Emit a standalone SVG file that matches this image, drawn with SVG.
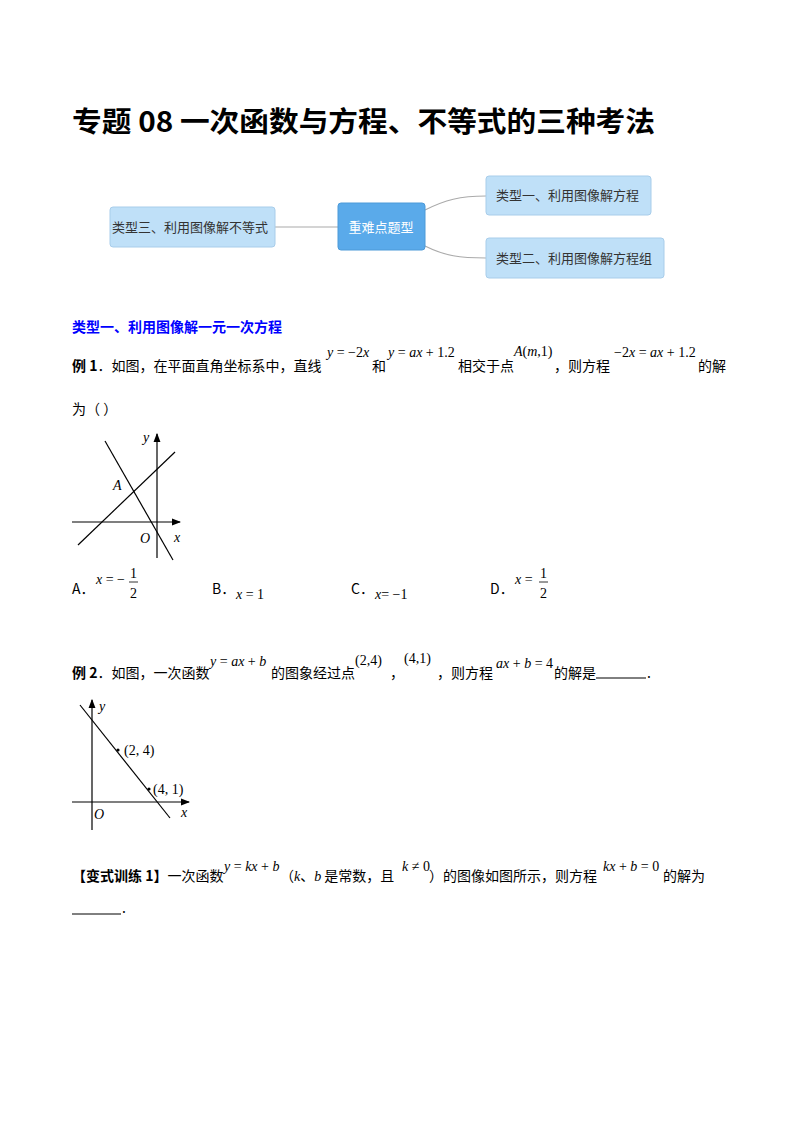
<svg xmlns="http://www.w3.org/2000/svg" width="800" height="1132" viewBox="0 0 800 1132">
<style>
.t{font-family:"Noto Sans CJK SC",sans-serif;font-size:14px;fill:#000}
.m{font-family:"Liberation Serif",serif;font-style:italic;font-size:14px;fill:#000}
.n{font-family:"Liberation Serif",serif;font-size:14px;fill:#000}
.r{font-style:normal}
.box{fill:#bfe0f8;stroke:#a8cdea;stroke-width:1}
.bt{font-family:"Noto Sans CJK SC",sans-serif;font-size:13px;fill:#333}
.ln{stroke:#000;stroke-width:1.2;fill:none}
</style>
<defs><marker id="ar" markerWidth="8" markerHeight="8" refX="7" refY="4" orient="auto"><path d="M0,1 L8,4 L0,7 z" fill="#000"/></marker></defs>
<rect width="800" height="1132" fill="#fff"/>
<text x="72" y="132" font-family="Noto Sans CJK SC,sans-serif" font-size="28" font-weight="bold" textLength="583" lengthAdjust="spacingAndGlyphs">专题 08  一次函数与方程、不等式的三种考法</text>
<g id="connectors" stroke="#aaa" stroke-width="1.2" fill="none">
<path d="M275,227 L338,227"/>
<path d="M425,210 C445,200 460,196 486,196"/>
<path d="M425,246 C445,256 460,258 486,258"/>
</g>
<g id="n3"><rect class="box" x="110" y="207" width="165" height="40" rx="3"/><text class="bt" x="112" y="232">类型三、利用图像解不等式</text></g>
<g id="n0"><rect x="338" y="203" width="87" height="47" rx="3" fill="#5aaaea" stroke="#4d9ad8"/><text x="381" y="232" text-anchor="middle" font-family="Noto Sans CJK SC,sans-serif" font-size="13" fill="#fff">重难点题型</text></g>
<g id="n1"><rect class="box" x="486" y="176" width="165" height="39" rx="3"/><text class="bt" x="496" y="200">类型一、利用图像解方程</text></g>
<g id="n2"><rect class="box" x="486" y="238" width="178" height="40" rx="3"/><text class="bt" x="496" y="263">类型二、利用图像解方程组</text></g>
<text x="72" y="332" font-family="Noto Sans CJK SC,sans-serif" font-size="14" font-weight="bold" fill="#0000ff">类型一、利用图像解一元一次方程</text>
<text class="t" x="72" y="371"><tspan font-weight="bold">例 1</tspan>．如图，在平面直角坐标系中，直线</text>
<text class="m" x="327" y="357">y <tspan class="r">= −2</tspan>x</text>
<text class="t" x="372" y="371">和</text>
<text class="m" x="388" y="357">y <tspan class="r">=</tspan> ax <tspan class="r">+ 1.2</tspan></text>
<text class="t" x="458" y="371">相交于点</text>
<text class="m" x="514" y="356">A<tspan class="r">(</tspan>m<tspan class="r">,1)</tspan></text>
<text class="t" x="554" y="371">，则方程</text>
<text class="m" x="614" y="357"><tspan class="r">−2</tspan>x <tspan class="r">=</tspan> ax <tspan class="r">+ 1.2</tspan></text>
<text class="t" x="698" y="371">的解</text>
<text class="t" x="72" y="414">为（    ）</text>
<g id="graph1">
<line class="ln" x1="72" y1="522" x2="180" y2="522" marker-end="url(#ar)"/>
<line class="ln" x1="157" y1="558" x2="157" y2="434" marker-end="url(#ar)"/>
<line class="ln" x1="105" y1="441" x2="173" y2="560"/>
<line class="ln" x1="78" y1="545" x2="175" y2="452"/>
<text class="m" x="113" y="490">A</text>
<text class="m" x="140" y="543" font-size="15">O</text>
<text class="m" x="174" y="542" font-size="15">x</text>
<text class="m" x="143" y="442" font-size="15">y</text>
</g>
<text class="t" x="72" y="594">A．</text><text class="m" x="96" y="584">x <tspan class="r">= −</tspan></text><text class="n" x="130" y="578">1</text><line x1="129" y1="582" x2="138" y2="582" stroke="#000" stroke-width="0.8"/><text class="n" x="130" y="598">2</text>
<text class="t" x="212" y="594">B．</text><text class="m" x="236" y="599">x <tspan class="r">= 1</tspan></text>
<text class="t" x="351" y="594">C．</text><text class="m" x="375" y="599">x<tspan class="r">= −1</tspan></text>
<text class="t" x="490" y="594">D．</text><text class="m" x="515" y="584">x <tspan class="r">=</tspan></text><text class="n" x="540" y="578">1</text><line x1="539" y1="582" x2="548" y2="582" stroke="#000" stroke-width="0.8"/><text class="n" x="540" y="598">2</text>
<text class="t" x="72" y="678"><tspan font-weight="bold">例 2</tspan>．如图，一次函数</text>
<text class="m" x="210" y="666">y <tspan class="r">=</tspan> ax <tspan class="r">+</tspan> b</text>
<text class="t" x="271" y="678">的图象经过点</text>
<text class="n" x="355" y="665" font-size="15">(2,4)</text>
<text class="t" x="390" y="678">，</text>
<text class="n" x="404" y="663" font-size="15">(4,1)</text>
<text class="t" x="437" y="678">，则方程</text>
<text class="m" x="496" y="668">ax <tspan class="r">+</tspan> b <tspan class="r">= 4</tspan></text>
<text class="t" x="554" y="678">的解是</text>
<line x1="596" y1="678" x2="646" y2="678" stroke="#000" stroke-width="1"/>
<text class="t" x="647" y="678">.</text>
<g id="graph2">
<line class="ln" x1="72" y1="802" x2="189" y2="802" marker-end="url(#ar)"/>
<line class="ln" x1="92" y1="830" x2="92" y2="700" marker-end="url(#ar)"/>
<line class="ln" x1="80" y1="705" x2="170" y2="818"/>
<circle cx="118" cy="750" r="1.6"/><circle cx="149" cy="789" r="1.6"/>
<text class="n" x="124" y="755">(2,  4)</text>
<text class="n" x="153" y="794">(4,  1)</text>
<text class="m" x="94" y="819">O</text>
<text class="m" x="181" y="817">x</text>
<text class="m" x="99" y="711">y</text>
</g>
<text class="t" x="72" y="881"><tspan font-weight="bold">【变式训练 1】</tspan>一次函数</text>
<text class="m" x="224" y="871" font-size="12">y <tspan class="r">=</tspan> kx <tspan class="r">+</tspan> b</text>
<text class="t" x="280" y="881">（<tspan font-family="Liberation Serif" font-style="italic">k</tspan>、<tspan font-family="Liberation Serif" font-style="italic">b</tspan> 是常数，且</text>
<text class="m" x="402" y="871">k <tspan class="r">≠ 0</tspan></text>
<text class="t" x="429" y="881">）的图像如图所示，则方程</text>
<text class="m" x="603" y="871">kx <tspan class="r">+</tspan> b <tspan class="r">= 0</tspan></text>
<text class="t" x="663" y="881">的解为</text>
<line x1="72" y1="914" x2="121" y2="914" stroke="#000" stroke-width="1"/>
<text class="t" x="122" y="913">.</text>
</svg>
